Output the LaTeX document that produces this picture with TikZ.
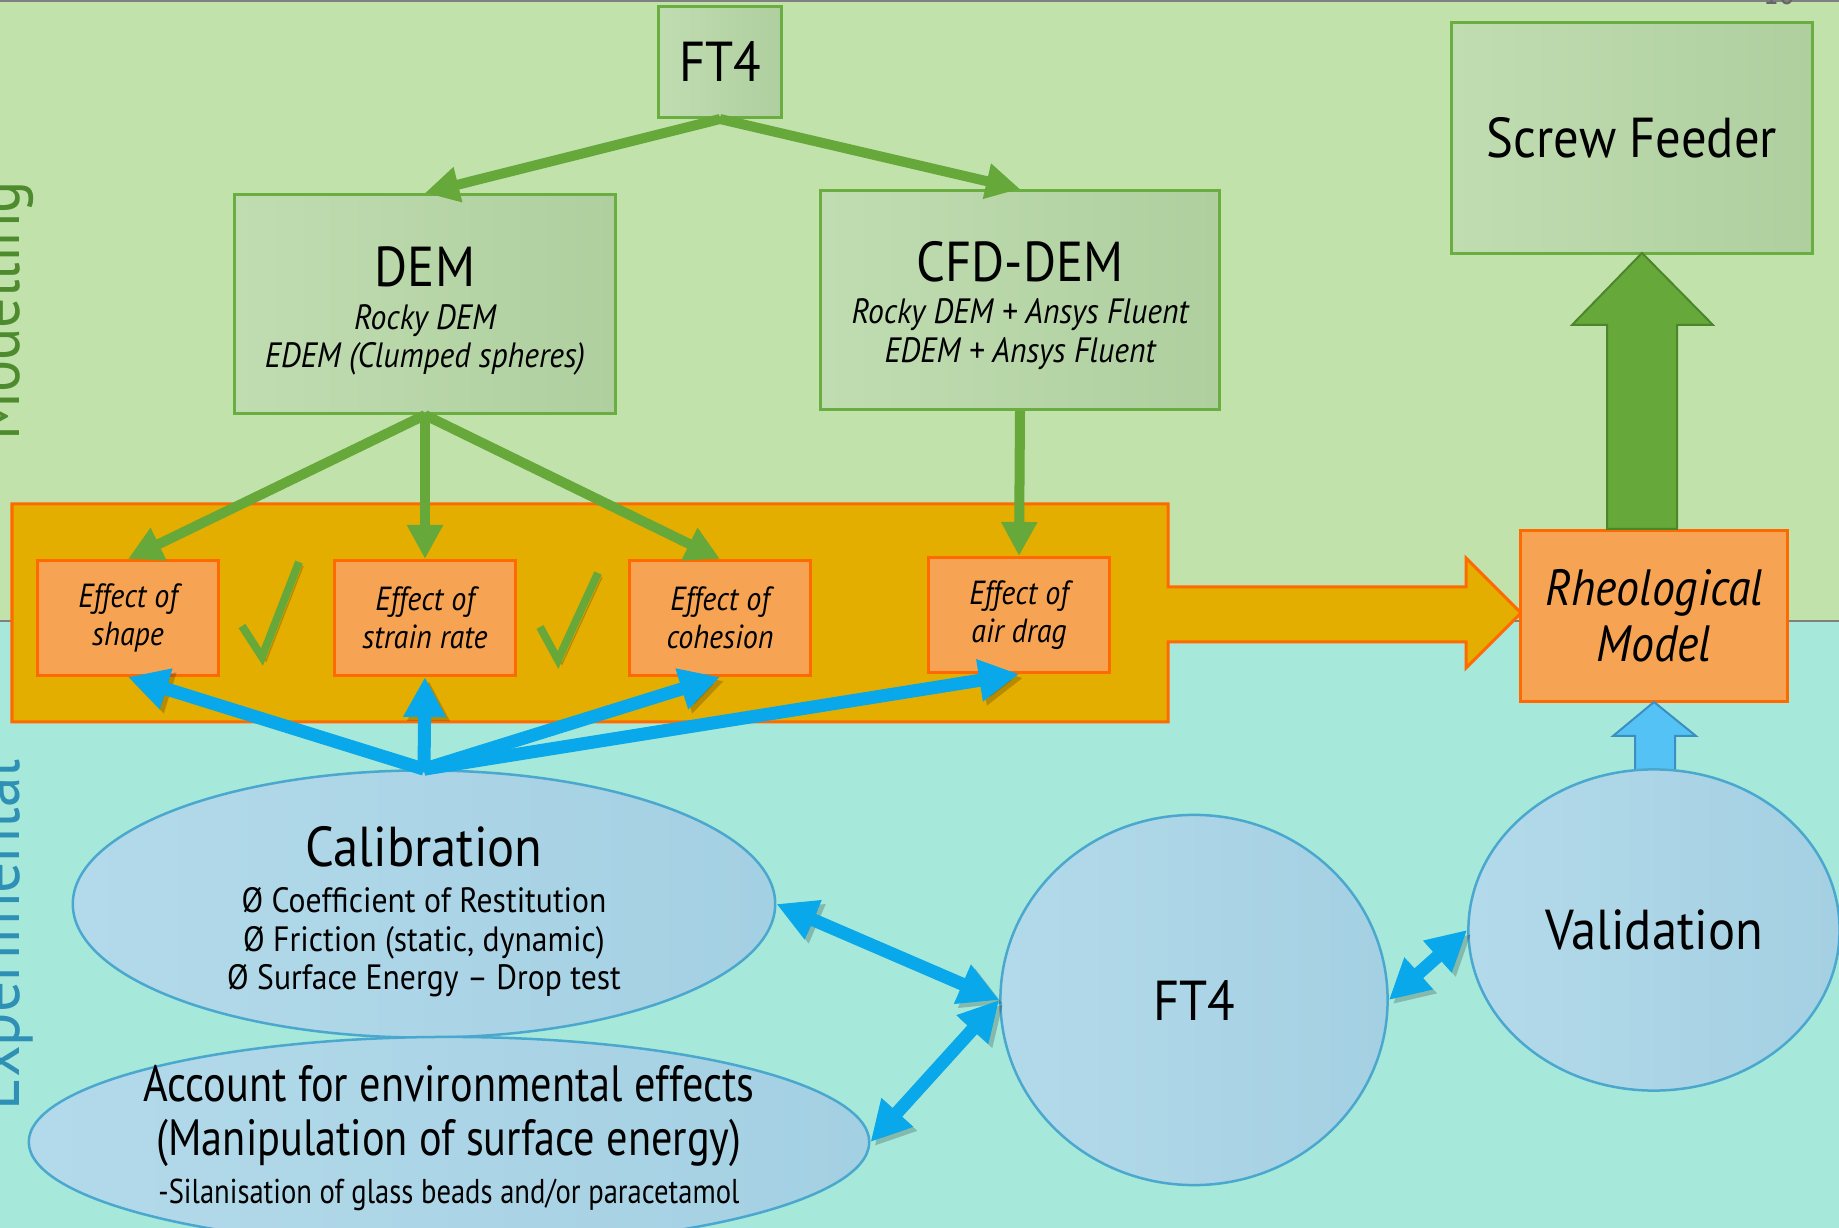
\documentclass[tikz,border=0pt]{standalone}
\usepackage{fontspec}
\setmainfont{PT Sans}[FakeStretch=0.9]
\newfontfamily\acctfont{PT Sans}[FakeStretch=0.83]
\usetikzlibrary{arrows.meta,shapes.geometric,calc}
\definecolor{bggreen}{HTML}{C1E3AB}
\definecolor{bgteal}{HTML}{A6E8DA}
\definecolor{boxgreen}{HTML}{6AAE42}
\definecolor{gboxA}{HTML}{C0DDB1}
\definecolor{gboxB}{HTML}{AFCF9F}
\definecolor{efffill}{HTML}{F6A453}
\definecolor{orangeline}{HTML}{FF6A00}
\definecolor{bandfill}{HTML}{E4AE00}
\definecolor{bubA}{HTML}{B3DAEA}
\definecolor{bubB}{HTML}{A4D0E3}
\definecolor{bubbleline}{HTML}{4AA8CE}
\definecolor{arrowblue}{HTML}{08A8EA}
\definecolor{arrowgreen}{HTML}{66A83A}
\definecolor{darkgreen}{HTML}{4C862B}
\definecolor{upblue}{HTML}{55C2F5}
\definecolor{upblueline}{HTML}{3A8FC0}
\definecolor{modgreen}{HTML}{4E8B2E}
\definecolor{expblue}{HTML}{2E90B4}
\newcommand{\titlef}{\fontsize{16}{19}\selectfont\upshape}
\newcommand{\subf}{\fontsize{10}{11}\selectfont\itshape}
\newcommand{\bulf}{\fontsize{10}{11}\selectfont\upshape}

\begin{document}
\begin{tikzpicture}[x=0.01cm,y=-0.01cm,
    greenbox/.style={draw=boxgreen,line width=0.03cm,left color=gboxA,right color=gboxB,inner sep=0pt,align=center},
    effbox/.style={draw=orangeline,line width=0.03cm,fill=efffill,minimum width=1.8cm,minimum height=1.15cm,inner sep=0pt,align=center,font=\fontsize{9.5}{10.8}\selectfont\itshape},
    bubble/.style={ellipse,draw=bubbleline,line width=0.025cm,left color=bubA,right color=bubB,inner sep=0pt},
    grarrow/.style={draw=arrowgreen,line width=0.1cm,-{Triangle[length=0.34cm,width=0.34cm]}},
    blarrow/.style={draw=arrowblue,line width=0.13cm,-{Triangle[length=0.4cm,width=0.4cm]},
      preaction={draw=black,opacity=0.2,transform canvas={shift={(4,4)}}}},
    dblarrow/.style={blarrow,{Triangle[length=0.4cm,width=0.4cm]}-{Triangle[length=0.4cm,width=0.4cm]}},
    tick/.style={draw=arrowgreen,line width=0.08cm,
      preaction={draw=black,opacity=0.2,transform canvas={shift={(4,4)}}}}]
  \useasboundingbox (0,0) rectangle (1839,1228);
  \clip (0,0) rectangle (1839,1228);
  \fill[bggreen] (0,0) rectangle (1839,621);
  \fill[bgteal] (0,621) rectangle (1839,1228);
  \draw[gray,line width=0.025cm] (0,1) -- (1839,1);
  \draw[gray,line width=0.025cm] (0,621) -- (1839,621);
  \node[rotate=90,anchor=base,text=modgreen,font=\fontsize{19}{21}\selectfont] (modlabel) at (19,311) {Modelling};
  \node[rotate=90,anchor=base,text=expblue,font=\fontsize{19.5}{21}\selectfont] (explabel) at (19,935) {Experimental};
  \node[anchor=base,text=black!60,font=\fontsize{9}{10}\selectfont] (pageno) at (1779,5) {10};

  \draw[draw=orangeline,fill=bandfill,line width=0.03cm] (12,504) -- (1168,504) -- (1168,587) -- (1466,587)
    -- (1466,558) -- (1521,613) -- (1466,668) -- (1466,642) -- (1168,642) -- (1168,722) -- (12,722) -- cycle;

  \node[greenbox,minimum width=1.23cm,minimum height=1.11cm,font=\titlef] (ft4top) at (720,62) {FT4};
  \node[greenbox,minimum width=3.8cm,minimum height=2.19cm,font=\subf] (dem) at (425,304)
    {{\titlef\rule{0pt}{15.5pt}DEM}\\[1pt]Rocky DEM\\EDEM (Clumped spheres)};
  \node[greenbox,minimum width=3.99cm,minimum height=2.19cm,font=\subf] (cfd) at (1020,300)
    {{\titlef\rule{0pt}{14.5pt}CFD-DEM}\\[1pt]Rocky DEM + Ansys Fluent\\EDEM + Ansys Fluent};
  \node[greenbox,minimum width=3.61cm,minimum height=2.3cm,font=\titlef] (screw) at (1632,138) {Screw Feeder};

  \node[effbox] (shape) at (128,618) {Effect of\\shape};
  \node[effbox] (strain) at (425,618) {Effect of\\strain rate};
  \node[effbox] (cohesion) at (720,618) {Effect of\\cohesion};
  \node[effbox] (airdrag) at (1019,615) {Effect of\\air drag};
  \node[effbox,minimum width=2.67cm,minimum height=1.7cm,font=\fontsize{14.5}{16}\selectfont\itshape] (rheo) at (1654,616) {Rheological\\Model};

  \draw[tick] (242,626) -- (262,657) -- (299,562);
  \draw[tick] (540,627) -- (558,660) -- (598,573);

  \draw[draw=darkgreen,fill=arrowgreen,line width=0.02cm] (1607,529) -- (1607,325) -- (1572,325) -- (1642,253)
    -- (1713,325) -- (1677,325) -- (1677,529) -- cycle;
  \draw[draw=upblueline,fill=upblue,line width=0.02cm] (1635,771) -- (1635,736) -- (1613,736) -- (1654,702)
    -- (1696,736) -- (1675,736) -- (1675,771) -- cycle;

  \node[bubble,minimum width=7.02cm,minimum height=2.67cm] (calib) at (424,904) {};
  \node[align=center,font=\bulf] (calibtxt) at (424,912)
    {{\titlef Calibration}\\[2pt]Ø Coefficient of Restitution\\Ø Friction (static, dynamic)\\Ø Surface Energy -- Drop test};
  \node[bubble,minimum width=8.4cm,minimum height=2.1cm] (acct) at (449,1142) {};
  \node[align=center,font=\acctfont\fontsize{14.5}{15.6}\selectfont] (accttxt) at (449,1138)
    {Account for environmental effects\\(Manipulation of surface energy)\\[-2pt]{\fontsize{9.8}{11}\selectfont -Silanisation of glass beads and/or paracetamol}};
  \node[bubble,minimum width=3.87cm,minimum height=3.7cm,font=\titlef] (ft4) at (1194,1000) {FT4};
  \node[bubble,minimum width=3.71cm,minimum height=3.21cm,font=\titlef] (valid) at (1654,930) {Validation};

  \draw[grarrow] (ft4top.south) -- (dem.north);
  \draw[grarrow] (ft4top.south) -- (cfd.north);
  \draw[grarrow] (dem.south) -- (shape.north);
  \draw[grarrow] (dem.south) -- (strain.north);
  \draw[grarrow] (dem.south) -- (cohesion.north);
  \draw[grarrow] (cfd.south) -- (airdrag.north);

  \draw[blarrow] (calib.north) -- (shape.south);
  \draw[blarrow] (calib.north) -- (strain.south);
  \draw[blarrow] (calib.north) -- (cohesion.south);
  \draw[blarrow] (calib.north) -- (airdrag.south);
  \draw[dblarrow] (calib.east) -- (ft4.west);
  \draw[dblarrow] (acct.east) -- (ft4.west);
  \draw[dblarrow] (ft4.east) -- (valid.west);
\end{tikzpicture}
\end{document}
